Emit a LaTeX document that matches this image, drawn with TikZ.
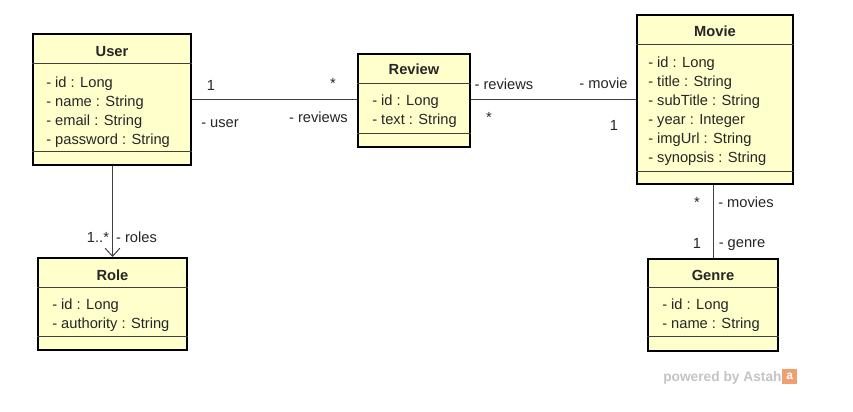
\documentclass[tikz,border=0pt]{standalone}
\usepackage{fontspec}
\setmainfont{Liberation Sans}
\usetikzlibrary{arrows.meta,fit}
\definecolor{clsfill}{HTML}{FFFFCC}
\definecolor{txt}{HTML}{262626}
\definecolor{linec}{HTML}{404040}
\definecolor{wm}{HTML}{C4C4C4}
\definecolor{logo}{HTML}{F0A070}
\tikzset{
  cls/.style={draw=black, line width=1.5pt, fill=clsfill, inner sep=0pt},
  sepline/.style={draw=linec, line width=0.75pt},
  ctitle/.style={anchor=base, font=\fontsize{11}{13}\selectfont\bfseries, text=txt, inner sep=0pt},
  attr/.style={anchor=base west, font=\fontsize{11}{13}\selectfont, text=txt, inner sep=0pt},
  lbl/.style={anchor=base, font=\fontsize{11}{13}\selectfont, text=txt, inner sep=0pt},
  conn/.style={draw=linec, line width=0.75pt},
}
\begin{document}
\begin{tikzpicture}[x=0.75pt,y=-0.75pt]
\useasboundingbox (0,0) rectangle (853,411);
\fill[white] (0,0) rectangle (853,411);

% User
\node[cls, fit={(33,34) (191,165)}] (User) {};
\draw[sepline] (User.west |- 0,63) -- (User.east |- 0,63);
\draw[sepline] (User.west |- 0,151) -- (User.east |- 0,151);
\node[ctitle] (ut) at (112,56) {User};
\node[attr] (u1) at (46,87) {- id : Long};
\node[attr] (u2) at (46,106) {- name : String};
\node[attr] (u3) at (46,125) {- email : String};
\node[attr] (u4) at (46,144) {- password : String};

% Review
\node[cls, fit={(358,54) (470,147)}] (Review) {};
\draw[sepline] (Review.west |- 0,83) -- (Review.east |- 0,83);
\draw[sepline] (Review.west |- 0,133) -- (Review.east |- 0,133);
\node[ctitle] (rt) at (414,74) {Review};
\node[attr] (r1) at (372,105) {- id : Long};
\node[attr] (r2) at (372,124) {- text : String};

% Movie
\node[cls, fit={(637,15) (793,184)}] (Movie) {};
\draw[sepline] (Movie.west |- 0,44) -- (Movie.east |- 0,44);
\draw[sepline] (Movie.west |- 0,171) -- (Movie.east |- 0,171);
\node[ctitle] (mt) at (715,36) {Movie};
\node[attr] (m1) at (648,67) {- id : Long};
\node[attr] (m2) at (648,86) {- title : String};
\node[attr] (m3) at (648,105) {- subTitle : String};
\node[attr] (m4) at (648,124) {- year : Integer};
\node[attr] (m5) at (648,143) {- imgUrl : String};
\node[attr] (m6) at (648,162) {- synopsis : String};

% Role
\node[cls, fit={(38,258) (187,350)}] (Role) {};
\draw[sepline] (Role.west |- 0,287) -- (Role.east |- 0,287);
\draw[sepline] (Role.west |- 0,336) -- (Role.east |- 0,336);
\node[ctitle] (rot) at (112.5,280) {Role};
\node[attr] (ro1) at (52,309) {- id : Long};
\node[attr] (ro2) at (52,328) {- authority : String};

% Genre
\node[cls, fit={(648,259) (778,351)}] (Genre) {};
\draw[sepline] (Genre.west |- 0,287) -- (Genre.east |- 0,287);
\draw[sepline] (Genre.west |- 0,336) -- (Genre.east |- 0,336);
\node[ctitle] (gt) at (713,280) {Genre};
\node[attr] (g1) at (662,309) {- id : Long};
\node[attr] (g2) at (662,328) {- name : String};

% connectors
\draw[conn] (User.east) -- (User.east -| Review.west);
\draw[conn] (Review.east |- Movie.west) -- (Movie.west);
\draw[conn, -{Straight Barb[length=6pt,width=11pt,line width=0.75pt]}] (Role.north |- User.south) -- (Role.north);
\draw[conn] (Movie.south -| Genre.north) -- (Genre.north);

% labels
\node[lbl] (l1) at (211,90) {1};
\node[lbl] (l2) at (333,88) {*};
\node[lbl] (l3) at (220,127) {- user};
\node[lbl] (l4) at (318.5,122) {- reviews};
\node[lbl] (l5) at (504,89) {- reviews};
\node[lbl] (l6) at (603.5,88) {- movie};
\node[lbl] (l7) at (489,122) {*};
\node[lbl] (l8) at (614,130) {1};
\node[lbl] (l9) at (697,207) {*};
\node[lbl] (l10) at (746,207) {- movies};
\node[lbl] (l11) at (697,248) {1};
\node[lbl] (l12) at (742,247) {- genre};
\node[lbl] (l13) at (98,242) {1..*};
\node[lbl] (l14) at (136.5,242) {- roles};

% watermark
\node[anchor=base west, font=\fontsize{10.3}{12}\selectfont\bfseries, text=wm, inner sep=0pt] (wmk) at (663,381) {powered by Astah};
\node[fill=logo, minimum width=11.25pt, minimum height=11.25pt, inner sep=0pt, anchor=north west,
      font=\fontsize{9}{10}\selectfont\bfseries, text=white] (lg) at (782,369) {a};
\end{tikzpicture}
\end{document}
